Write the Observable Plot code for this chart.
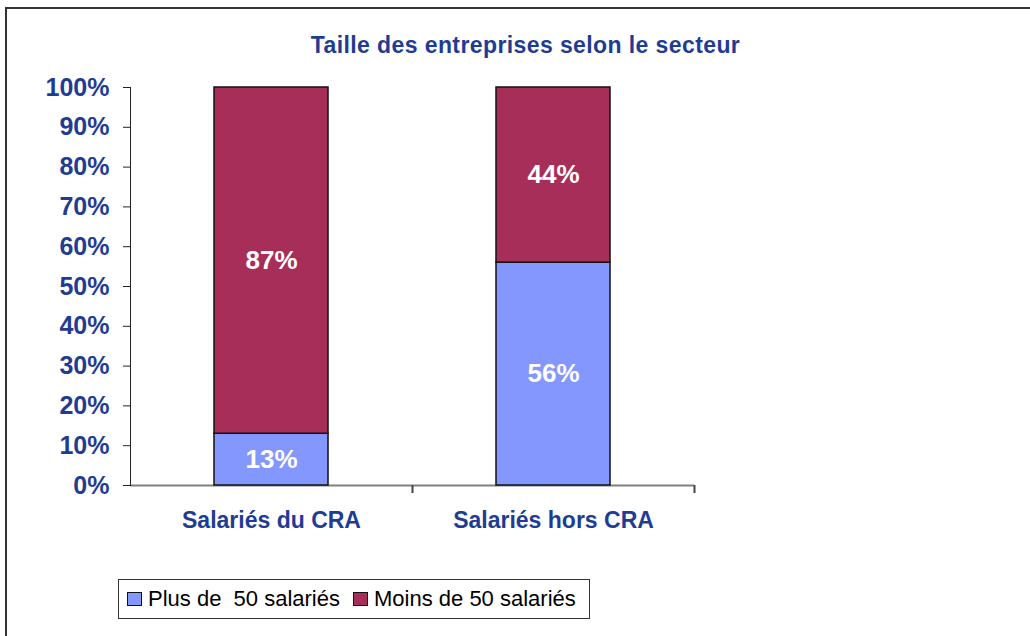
<!DOCTYPE html>
<html><head><meta charset="utf-8">
<script src="https://cdn.jsdelivr.net/npm/d3@7"></script>
<script src="https://cdn.jsdelivr.net/npm/@observablehq/plot@0.6"></script>
<style>
body{margin:0;background:#fff;font-family:"Liberation Sans",Arial,sans-serif;}
#wrap{position:relative;width:1030px;height:636px;overflow:hidden;}
#frame{position:absolute;left:5px;top:7px;width:1060px;height:660px;border-top:2px solid #333;border-left:2px solid #333;}
#title{position:absolute;left:0;width:1051px;top:34px;line-height:23px;text-align:center;font-weight:bold;font-size:23px;letter-spacing:0.4px;color:#1F3C95;white-space:nowrap;}
#chart{position:absolute;left:0;top:60px;}
#legend{position:absolute;left:118px;top:579px;width:462px;height:38px;border:1px solid #333;display:flex;align-items:center;padding-left:8px;box-sizing:content-box;}
#legend .sw{width:13px;height:12px;border:1px solid #111;margin-right:6px;flex:none;}
#legend .lb{font-size:22px;line-height:22px;white-space:pre;color:#000;margin-right:13px;}
</style></head>
<body>
<div id="wrap">
  <div id="frame"></div>
  <div id="title"></div>
  <div id="chart"></div>
  <div id="legend"></div>
</div>
<script>
const titleText = "Taille des entreprises selon le secteur";
const categories = ["Salariés du CRA", "Salariés hors CRA"];
const groups = ["Plus de  50 salariés", "Moins de 50 salariés"];
const colors = ["#8497FF", "#A82E5A"];
const plus50 = [13, 56];
const moins50 = [87, 44];
const yTicks = [0, 10, 20, 30, 40, 50, 60, 70, 80, 90, 100];

const rows = [];
categories.forEach((c, i) => {
  rows.push({cat: c, group: groups[0], value: plus50[i]});
  rows.push({cat: c, group: groups[1], value: moins50[i]});
});

document.getElementById("title").textContent = titleText;

const chart = Plot.plot({
  width: 1030,
  height: 480,
  marginTop: 27,
  marginBottom: 55,
  marginLeft: 130,
  marginRight: 336,
  style: {fontFamily: "'Liberation Sans', Arial, sans-serif", background: "transparent", overflow: "visible"},
  x: {domain: categories, paddingInner: 0.596, paddingOuter: 0.298, label: null},
  y: {domain: [0, 100], label: null},
  color: {domain: groups, range: colors},
  marks: [
    Plot.ruleY([0], {stroke: "#808080", strokeWidth: 2}),
    Plot.barY(rows, {x: "cat", y: "value", fill: "group", stroke: "#111", strokeWidth: 1.5, order: groups}),
    Plot.text(rows, Plot.stackY({x: "cat", y: "value", z: "group", order: groups, text: d => d.value + "%", fill: "white", fontSize: 26, fontWeight: "bold"})),
    Plot.axisY({ticks: yTicks, tickFormat: d => d + "%", tickSize: 7, tickPadding: 14, fontSize: 25, fontWeight: "bold", fill: "#1F3C95", stroke: "#222"}),
    Plot.axisX({tickSize: 0, tickPadding: 26, fontSize: 23, fontWeight: "bold", fill: "#1F3C95"}),
    Plot.frame({anchor: "left", stroke: "#222"}),
    Plot.ruleX(categories, {x: d => d, dx: 141, y1: 0, y2: 0, insetBottom: -8, stroke: "#444", strokeWidth: 2})
  ]
});
document.getElementById("chart").appendChild(chart);

const legend = document.getElementById("legend");
groups.forEach((g, i) => {
  const sw = document.createElement("span");
  sw.className = "sw";
  sw.style.background = colors[i];
  const lb = document.createElement("span");
  lb.className = "lb";
  lb.textContent = g;
  legend.appendChild(sw);
  legend.appendChild(lb);
});
</script>
</body></html>
